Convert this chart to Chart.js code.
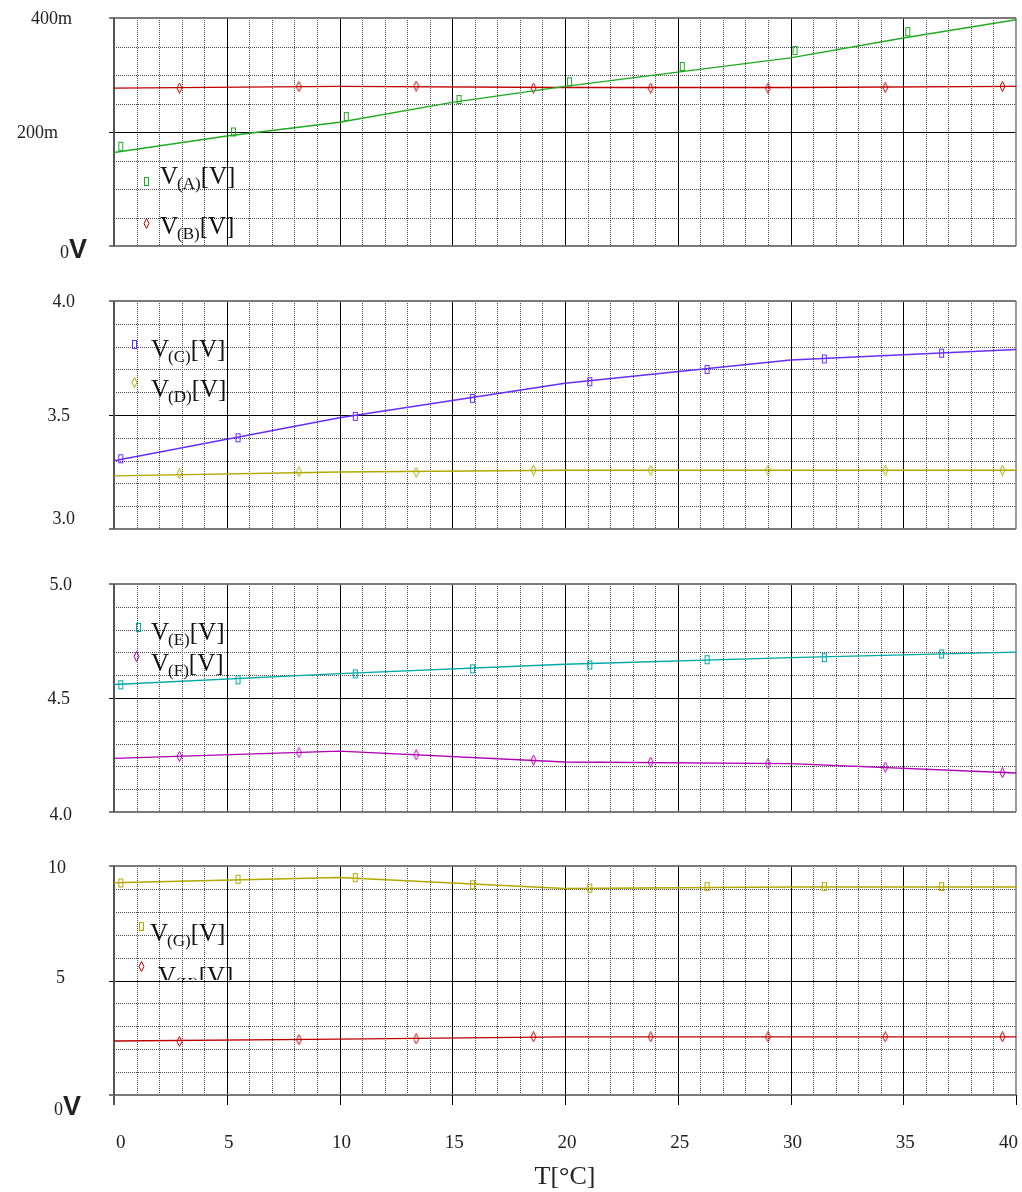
<!DOCTYPE html>
<html>
<head>
<meta charset="utf-8">
<script src="https://cdn.jsdelivr.net/npm/chart.js@4/dist/chart.umd.min.js"></script>
<style>
html, body { margin: 0; padding: 0; background: #fff; }
#wrap { position: relative; width: 1022px; height: 1192px; overflow: hidden; }
canvas { position: absolute; left: 0; }
</style>
</head>
<body>
<div id="wrap"></div>
<script>
// temperature positions (°C)
const tFine = [0, 5, 10, 15, 20, 25, 30, 35, 40];
const tLine = [0, 10, 20, 30, 40];
const tSqA = [0.3, 5.3, 10.3, 15.3, 20.2, 25.2, 30.2, 35.2];
const tSq = [0.3, 5.5, 10.7, 15.9, 21.1, 26.3, 31.5, 36.7];
const tDia = [2.9, 8.2, 13.4, 18.6, 23.8, 29.0, 34.2, 39.4];

// panel 1 [V]
const vA = [0.164, 0.193, 0.217, 0.252, 0.280, 0.305, 0.330, 0.365, 0.397];
const vAmark = [0.175, 0.200, 0.227, 0.257, 0.288, 0.315, 0.343, 0.376];
const vB = [0.277, 0.280, 0.278, 0.278, 0.280];
const vBmark = [0.277, 0.2795, 0.2807, 0.277, 0.277, 0.277, 0.278, 0.280];

// panel 2
const vC = [3.299, 3.488, 3.639, 3.741, 3.787];
const vCmark = [3.308, 3.400, 3.494, 3.573, 3.646, 3.700, 3.746, 3.771];
const vD = [3.233, 3.250, 3.258, 3.258, 3.258];
const vDmark = [3.242, 3.251, 3.249, 3.258, 3.258, 3.258, 3.258, 3.258];

// panel 3
const vE = [4.559, 4.607, 4.648, 4.677, 4.701];
const vEmark = [4.558, 4.580, 4.606, 4.628, 4.645, 4.668, 4.677, 4.693];
const vF = [4.235, 4.267, 4.219, 4.212, 4.171];
const vFmark = [4.244, 4.260, 4.251, 4.228, 4.219, 4.212, 4.197, 4.172];

// panel 4
const vG = [9.27, 9.50, 9.02, 9.08, 9.08];
const vGmark = [9.26, 9.42, 9.49, 9.18, 9.03, 9.10, 9.10, 9.10];
const vH = [2.355, 2.44, 2.54, 2.54, 2.54];
const vHmark = [2.34, 2.41, 2.45, 2.54, 2.54, 2.54, 2.54, 2.54];

// y tick labels
const yTicks1 = [0.4, 0.2, 0], yLabels1 = ['400m', '200m', '0V'];
const yTicks2 = [4.0, 3.5, 3.0], yLabels2 = ['4.0', '3.5', '3.0'];
const yTicks3 = [5.0, 4.5, 4.0], yLabels3 = ['5.0', '4.5', '4.0'];
const yTicks4 = [10, 5, 0], yLabels4 = ['10', '5', '0V'];

const green = '#1faa1f', red = '#c00000', purple = '#6a2cff', olive = '#b3a800', teal = '#00a8a8', magenta = '#b000b4';

function markImg(color, kind) {
    const c = document.createElement('canvas');
    c.width = 7; c.height = 11;
    const g = c.getContext('2d');
    g.strokeStyle = color; g.lineWidth = 1;
    if (kind === 'sq') g.strokeRect(1.5, 1.5, 4, 8);
    else {
        g.beginPath();
        g.moveTo(3.5, 0.5); g.lineTo(6, 5.5); g.lineTo(3.5, 10.5); g.lineTo(1, 5.5);
        g.closePath(); g.stroke();
    }
    return c;
}

function pts(xs, ys) { return xs.map((x, i) => ({ x: x, y: ys[i] })); }

// layout of each panel (page pixels)
const panels = [
    { top: 0, h: 270, padTop: 18, padBottom: 24, min: 0, max: 0.4, minor: 0.05, mid: 0.2,
      yTicks: yTicks1, yLabels: yLabels1, labRight: [72, 58, 87], labDy: [6, 6, 12],
      series: [
          { name: 'A', color: green, kind: 'sq', lx: tFine, ly: vA, mx: tSqA, my: vAmark },
          { name: 'B', color: red, kind: 'dia', lx: tLine, ly: vB, mx: tDia, my: vBmark }],
      legend: [{ mx: 146, my: 181, tx: 160, by: 184 }, { mx: 146, my: 223, tx: 160, by: 234 }] },
    { top: 270, h: 283, padTop: 31, padBottom: 24, min: 3.0, max: 4.0, minor: 0.1, mid: 3.5,
      yTicks: yTicks2, yLabels: yLabels2, labRight: [75, 70, 75], labDy: [6, 6, -5],
      series: [
          { name: 'C', color: purple, kind: 'sq', lx: tLine, ly: vC, mx: tSq, my: vCmark },
          { name: 'D', color: olive, kind: 'dia', lx: tLine, ly: vD, mx: tDia, my: vDmark }],
      legend: [{ mx: 134, my: 344, tx: 151, by: 357 }, { mx: 134, my: 382, tx: 151, by: 397 }] },
    { top: 553, h: 283, padTop: 31, padBottom: 24, min: 4.0, max: 5.0, minor: 0.1, mid: 4.5,
      yTicks: yTicks3, yLabels: yLabels3, labRight: [72, 70, 72], labDy: [6, 6, 8],
      series: [
          { name: 'E', color: teal, kind: 'sq', lx: tLine, ly: vE, mx: tSq, my: vEmark },
          { name: 'F', color: magenta, kind: 'dia', lx: tLine, ly: vF, mx: tDia, my: vFmark }],
      legend: [{ mx: 138, my: 627, tx: 151, by: 640 }, { mx: 136, my: 656, tx: 151, by: 671 }] },
    { top: 836, h: 356, padTop: 30, padBottom: 0, min: 0, max: 10, minor: 1, mid: 5, xAxis: true,
      yTicks: yTicks4, yLabels: yLabels4, labRight: [66, 65, 81], labDy: [7, 2, 20],
      series: [
          { name: 'G', color: olive, kind: 'sq', lx: tLine, ly: vG, mx: tSq, my: vGmark },
          { name: 'H', color: red, kind: 'dia', lx: tLine, ly: vH, mx: tDia, my: vHmark }],
      legend: [{ mx: 141, my: 926, tx: 150, by: 941 }, { mx: 141, my: 966, tx: 158, by: 984, clip: 980 }] }
];

function line(ctx, x1, y1, x2, y2) {
    ctx.beginPath(); ctx.moveTo(x1, y1); ctx.lineTo(x2, y2); ctx.stroke();
}

panels.forEach((p, k) => {
    const cv = document.createElement('canvas');
    cv.width = 1022; cv.height = p.h;
    cv.style.top = p.top + 'px';
    document.getElementById('wrap').appendChild(cv);

    const imgs = p.series.map(s => markImg(s.color, s.kind));
    const datasets = [];
    p.series.forEach((s, i) => {
        datasets.push({ data: pts(s.lx, s.ly), showLine: true, borderColor: s.color, borderWidth: 1.4,
            pointRadius: 0, tension: 0 });
        datasets.push({ data: pts(s.mx, s.my), showLine: false, pointStyle: imgs[i], pointRadius: 5,
            borderColor: s.color });
    });

    // grid, frame and ticks
    const gridPlugin = {
        id: 'grid' + k,
        beforeDatasetsDraw(chart) {
            const { ctx, chartArea: a, scales: { x, y } } = chart;
            ctx.save();
            ctx.lineWidth = 1;
            ctx.setLineDash([1, 1]);
            ctx.strokeStyle = '#4a4a4a';
            for (let t = 1; t < 40; t++) {
                if (t % 5 === 0) continue;
                const px = Math.round(x.getPixelForValue(t)) + 0.5;
                line(ctx, px, a.top, px, a.bottom);
            }
            const n = Math.round((p.max - p.min) / p.minor);
            for (let i = 1; i < n; i++) {
                const v = p.min + i * p.minor;
                if (Math.abs(v - p.mid) < 1e-9) continue;
                const py = Math.round(y.getPixelForValue(v)) + 0.5;
                line(ctx, a.left, py, a.right, py);
            }
            ctx.setLineDash([]);
            ctx.strokeStyle = '#000';
            for (let t = 5; t < 40; t += 5) {
                const px = Math.round(x.getPixelForValue(t)) + 0.5;
                line(ctx, px, a.top, px, a.bottom);
            }
            const pm = Math.round(y.getPixelForValue(p.mid)) + 0.5;
            line(ctx, a.left - 5, pm, a.right, pm);
            // frame
            ctx.strokeStyle = '#7a7a7a';
            ctx.lineWidth = 2;
            line(ctx, a.left - 5, a.top, a.right, a.top);
            line(ctx, a.left - 5, a.bottom, a.right, a.bottom);
            ctx.lineWidth = 1.5;
            line(ctx, a.right, a.top, a.right, a.bottom);
            ctx.strokeStyle = '#555';
            ctx.lineWidth = 2;
            line(ctx, a.left, a.top, a.left, a.bottom + (p.xAxis ? 10 : 0));
            if (p.xAxis) {
                ctx.strokeStyle = '#000';
                ctx.lineWidth = 1;
                for (let t = 5; t <= 40; t += 5) {
                    const px = Math.round(x.getPixelForValue(t)) + 0.5;
                    line(ctx, px, a.bottom, px, a.bottom + 10);
                }
            }
            ctx.restore();
        }
    };

    // legend with subscripts
    const legendPlugin = {
        id: 'leg' + k,
        afterDatasetsDraw(chart) {
            const ctx = chart.ctx;
            p.legend.forEach((e, i) => {
                const s = p.series[i];
                const img = imgs[i];
                ctx.save();
                ctx.drawImage(img, Math.round(e.mx - img.width / 2), Math.round(e.my - p.top - img.height / 2));
                if (e.clip) {
                    ctx.beginPath();
                    ctx.rect(0, 0, 1022, e.clip - p.top);
                    ctx.clip();
                }
                ctx.fillStyle = '#111';
                ctx.textBaseline = 'alphabetic';
                ctx.textAlign = 'left';
                let x = e.tx;
                const by = e.by - p.top;
                ctx.font = '25px "Liberation Serif"';
                ctx.fillText('V', x, by);
                x += ctx.measureText('V').width - 1;
                ctx.font = '17px "Liberation Serif"';
                const sub = '(' + s.name + ')';
                ctx.fillText(sub, x, by + 5);
                x += ctx.measureText(sub).width;
                ctx.font = '25px "Liberation Serif"';
                ctx.fillText('[V]', x, by);
                ctx.restore();
            });
        }
    };

    // y tick labels
    const yLabelPlugin = {
        id: 'ylab' + k,
        afterDraw(chart) {
            const ctx = chart.ctx;
            const y = chart.scales.y;
            ctx.save();
            ctx.fillStyle = '#222';
            ctx.textAlign = 'right';
            ctx.textBaseline = 'alphabetic';
            p.yTicks.forEach((v, i) => {
                const py = y.getPixelForValue(v) + p.labDy[i];
                const rx = p.labRight[i];
                const s = p.yLabels[i];
                if (s.endsWith('V')) {
                    ctx.font = 'bold 27px "Liberation Sans Narrow", "Liberation Sans"';
                    ctx.fillText('V', rx, py);
                    const w = ctx.measureText('V').width;
                    ctx.font = '18px "Liberation Serif"';
                    ctx.fillText(s.slice(0, -1), rx - w, py);
                } else {
                    ctx.font = '18px "Liberation Serif"';
                    ctx.fillText(s, rx, py);
                }
            });
            ctx.restore();
        }
    };

    const xScale = p.xAxis ? {
        type: 'linear', min: 0, max: 40, display: true,
        grid: { display: false, drawTicks: false },
        border: { display: false },
        ticks: { stepSize: 5, autoSkip: false, maxRotation: 0, align: 'inner', labelOffset: 2, padding: 37,
            color: '#222', font: { family: 'Liberation Serif', size: 19 } },
        title: { display: true, text: 'T[°C]', color: '#222', padding: { top: 0, bottom: 2 },
            font: { family: 'Liberation Serif', size: 26, lineHeight: 1 } },
        afterFit(s) { s.height = 97; s.paddingLeft = 0; s.paddingRight = 0; }
    } : { type: 'linear', min: 0, max: 40, display: false };

    new Chart(cv, {
        type: 'scatter',
        data: { datasets: datasets },
        options: {
            responsive: false,
            animation: false,
            layout: { padding: { left: 114, right: 4, top: p.padTop, bottom: p.padBottom } },
            scales: {
                x: xScale,
                y: { type: 'linear', min: p.min, max: p.max, display: false }
            },
            plugins: { legend: { display: false }, tooltip: { enabled: false } }
        },
        plugins: [gridPlugin, legendPlugin, yLabelPlugin]
    });
});
</script>
</body>
</html>
